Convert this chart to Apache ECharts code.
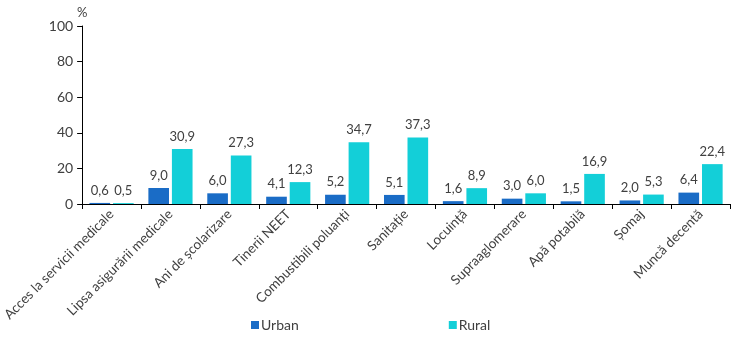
<!DOCTYPE html>
<html><head><meta charset="utf-8">
<script src="https://cdn.jsdelivr.net/npm/echarts@6/dist/echarts.min.js"></script>
<style>html,body{margin:0;padding:0;background:#fff}#c{width:736px;height:340px}</style>
</head><body><div id="c"></div>
<script>
const categories = ["Acces la servicii medicale","Lipsa asigurării medicale","Ani de școlarizare","Tinerii NEET","Combustibili poluanți","Sanitație","Locuință","Supraaglomerare","Apă potabilă","Șomaj","Muncă decentă"];
const urban = [0.6, 9.0, 6.0, 4.1, 5.2, 5.1, 1.6, 3.0, 1.5, 2.0, 6.4];
const rural = [0.5, 30.9, 27.3, 12.3, 34.7, 37.3, 8.9, 6.0, 16.9, 5.3, 22.4];
const yTicks = [0, 20, 40, 60, 80, 100];

const FONT = 'Lato';
const fmt = p => p.value.toFixed(1).replace('.', ',');
const chart = echarts.init(document.getElementById('c'));
chart.setOption({
  animation: false,
  textStyle: {fontFamily: FONT},
  grid: {left: 73, right: 6, top: 26, bottom: 136},
  legend: {
    data: ['Urban', 'Rural'],
    left: 246, top: 313,
    itemWidth: 8, itemHeight: 8, itemGap: 150,
    icon: 'rect',
    textStyle: {fontFamily: FONT, fontSize: 14, color: '#404040', padding: [0,0,0,-3]}
  },
  xAxis: {
    type: 'category',
    data: categories,
    axisLine: {lineStyle: {color: '#000', width: 1}},
    axisTick: {show: true, length: 5, lineStyle: {color: '#000'}},
    axisLabel: {rotate: 45, interval: 0, fontSize: 13.5, color: '#404040', margin: 8, fontFamily: FONT}
  },
  yAxis: {
    type: 'value',
    min: yTicks[0], max: yTicks[yTicks.length-1], interval: 20,
    name: '%', nameLocation: 'end', nameGap: 6,
    nameTextStyle: {fontSize: 13, color: '#404040', align: 'center', padding: [0,0,0,0]},
    axisLine: {show: true, lineStyle: {color: '#000'}},
    axisTick: {show: true, length: 5, lineStyle: {color: '#000'}},
    splitLine: {show: false},
    axisLabel: {fontSize: 14, color: '#404040', margin: 9, fontFamily: FONT}
  },
  series: [
    {name: 'Urban', type: 'bar', data: urban, barGap: '14%', barCategoryGap: '25%',
     itemStyle: {color: '#1a6cc6'},
     label: {show: true, position: 'top', distance: 6, formatter: fmt, fontSize: 13, color: '#404040', fontFamily: FONT}},
    {name: 'Rural', type: 'bar', data: rural, barGap: '14%', barCategoryGap: '25%',
     itemStyle: {color: '#13cfd8'},
     label: {show: true, position: 'top', distance: 6, formatter: fmt, fontSize: 13, color: '#404040', fontFamily: FONT}}
  ]
});
</script></body></html>
